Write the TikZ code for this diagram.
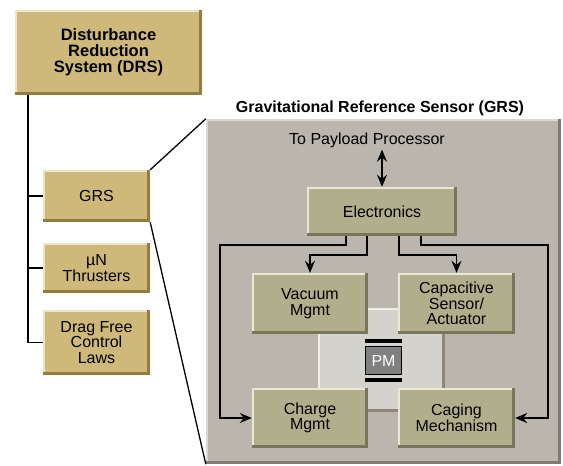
\documentclass[tikz,border=0pt]{standalone}
\usepackage{fontspec}
\setmainfont{Liberation Sans}
\usetikzlibrary{arrows.meta}

\definecolor{tanfill}{RGB}{206,185,122}
\definecolor{tanlite}{RGB}{236,228,200}
\definecolor{tandark}{RGB}{150,124,60}
\definecolor{panelfill}{RGB}{186,182,174}
\definecolor{panellite}{RGB}{218,216,210}
\definecolor{paneldark}{RGB}{128,122,114}
\definecolor{olivefill}{RGB}{177,175,139}
\definecolor{olivelite}{RGB}{232,232,214}
\definecolor{olivedark}{RGB}{120,118,90}
\definecolor{crossfill}{RGB}{212,210,204}
\definecolor{crosslite}{RGB}{238,237,232}
\definecolor{crossdark}{RGB}{140,134,124}
\definecolor{pmfill}{RGB}{128,128,128}

\tikzset{
  bevel/.style 2 args={path picture={
    \fill[#1] (path picture bounding box.north west) rectangle ([yshift=-2pt]path picture bounding box.north east);
    \fill[#1] (path picture bounding box.north west) rectangle ([xshift=2pt]path picture bounding box.south west);
    \fill[#2] ([xshift=-3pt]path picture bounding box.north east) rectangle (path picture bounding box.south east);
    \fill[#2] (path picture bounding box.south west) rectangle ([yshift=3pt]path picture bounding box.south east);
  }},
  tanbox/.style={fill=tanfill, bevel={tanlite}{tandark}, inner sep=0pt, align=center,
    font=\fontsize{16}{15.5}\selectfont, minimum width=107pt},
  olivebox/.style={fill=olivefill, bevel={olivelite}{olivedark}, inner sep=0pt, align=center,
    font=\fontsize{16}{15.5}\selectfont, minimum width=116pt, minimum height=61pt},
  tree/.style={line width=1.8pt},
  flow/.style={line width=1.8pt, -{Stealth[length=12pt,width=10pt,inset=4pt]}},
}

\begin{document}
\begin{tikzpicture}[x=1pt,y=-1pt]
  \useasboundingbox (0,0) rectangle (563,466);

  % Left side: the DRS tree
  \node[tanbox, minimum width=187pt, minimum height=85pt,
        font=\bfseries\fontsize{16.5}{16}\selectfont] (drs) at (108.5,52.5)
        {Disturbance\\Reduction\\System (DRS)};
  \node[tanbox, minimum height=52pt] (grs) at (96.5,196) {GRS};
  \node[tanbox, minimum height=50pt] (mu) at (96.5,268) {µN\\Thrusters};
  \node[tanbox, minimum height=65pt] (drag) at (96.5,342.5) {Drag Free\\Control\\Laws};

  \coordinate (trunk) at ([xshift=13pt]drs.south west);
  \draw[tree] (trunk) |- (grs.west);
  \draw[tree] (trunk) |- (mu.west);
  \draw[tree] (trunk) |- (drag.west);

  % Right side: the GRS panel
  \node[fill=panelfill, bevel={panellite}{paneldark}, inner sep=0pt,
        minimum width=355pt, minimum height=345pt] (panel) at (383.5,291.5) {};
  \node[font=\bfseries\fontsize{16}{16}\selectfont] (title) at (380,108)
        {Gravitational Reference Sensor (GRS)};

  \draw[line width=1.3pt] (grs.north east) -- (panel.north west);
  \draw[line width=1.3pt] (grs.south east) -- (panel.south west);

  % Centre of the sensor
  \node[fill=crossfill, bevel={crosslite}{crossdark}, inner sep=0pt,
        minimum width=127pt, minimum height=104pt] (cross) at (381.5,360) {};

  \node[font=\fontsize{16}{16}\selectfont, inner sep=2pt] (payload) at (367,140) {To Payload Processor};
  \node[olivebox, minimum width=150pt, minimum height=49pt] (elec) at (382,211.5) {Electronics};
  \node[olivebox] (vac) at (310,303.5) {Vacuum\\Mgmt};
  \node[olivebox, minimum width=117pt] (cap) at (456.5,303.5) {Capacitive\\Sensor/\\Actuator};
  \node[olivebox, minimum height=60pt] (charge) at (310,418) {Charge\\Mgmt};
  \node[olivebox, minimum width=117pt, minimum height=60pt] (cage) at (456.5,418) {Caging\\Mechanism};

  % Proof mass
  \node[fill=pmfill, draw=black, line width=1.5pt, text=white, inner sep=0pt,
        minimum width=36pt, minimum height=28pt, font=\fontsize{16}{16}\selectfont] (pm) at (383.5,360.5) {PM};
  \fill[black] ([yshift=3pt]pm.north west) rectangle ([yshift=7pt]pm.north east);
  \fill[black] ([yshift=-3pt]pm.south west) rectangle ([yshift=-7pt]pm.south east);

  % Connectors
  \draw[line width=1.8pt, {Stealth[length=12pt,width=10pt,inset=4pt]}-{Stealth[length=12pt,width=10pt,inset=4pt]}]
    (payload.south -| elec.north) -- (elec.north);
  \draw[flow] ([xshift=39pt]elec.south west) -- ++(0,9) -| ([xshift=-32pt]charge.west) -- (charge.west);
  \draw[flow] ([xshift=60pt]elec.south west) -- ++(0,19) -| (vac.north);
  \draw[flow] ([xshift=92pt]elec.south west) -- ++(0,19) -| (cap.north);
  \draw[flow] ([xshift=114pt]elec.south west) -- ++(0,9) -| ([xshift=33pt]cage.east) -- (cage.east);
\end{tikzpicture}
\end{document}
